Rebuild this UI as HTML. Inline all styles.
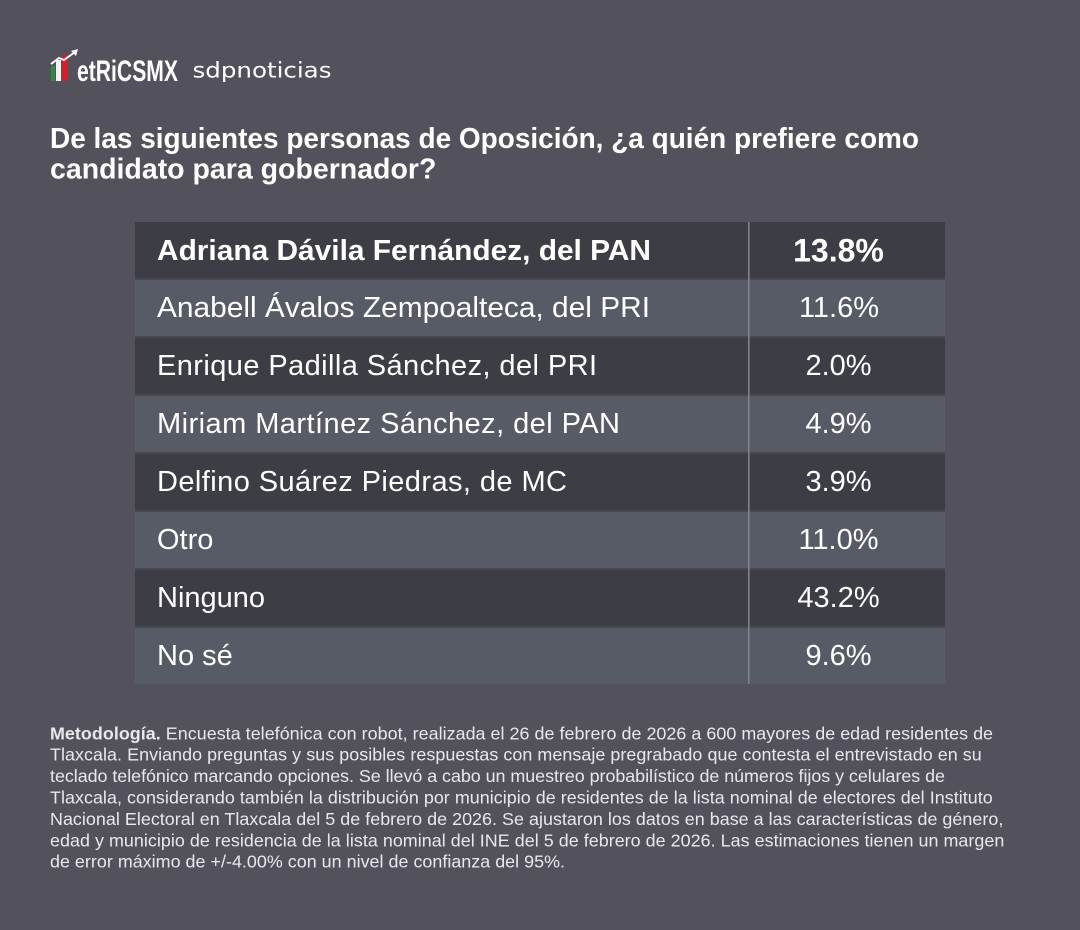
<!DOCTYPE html>
<html>
<head>
<meta charset="utf-8">
<style>
  html, body { margin:0; padding:0; background:#53515c; }
  svg { display:block; }
</style>
</head>
<body>
<svg width="1080" height="930" viewBox="0 0 1080 930" xmlns="http://www.w3.org/2000/svg" font-family="'Liberation Sans', Arial, sans-serif">
  <rect x="0" y="0" width="1080" height="930" fill="#53515c"/>

  <!-- Logo -->
  <rect x="51" y="66" width="4" height="15" fill="#2e8b3e"/>
  <rect x="56" y="60" width="5" height="21" fill="#f2f2f2"/>
  <rect x="62" y="55" width="6" height="26" fill="#d0202a"/>
  <polyline points="51,64 59,58 64,60 75,52" fill="none" stroke="#ffffff" stroke-width="2"/>
  <polygon points="78,49 71,51 76,56" fill="#ffffff"/>
  <text x="77" y="81" font-size="30" font-weight="bold" fill="#ffffff" textLength="101" lengthAdjust="spacingAndGlyphs">etRiCSMX</text>
  <text x="192.5" y="77.5" font-size="21" fill="#ffffff" textLength="139" lengthAdjust="spacingAndGlyphs" font-family="'DejaVu Sans', 'Liberation Sans', sans-serif">sdpnoticias</text>

  <!-- Title -->
  <text x="50" y="148" font-size="28.5" font-weight="bold" fill="#ffffff" textLength="869" lengthAdjust="spacingAndGlyphs">De las siguientes personas de Oposición, ¿a quién prefiere como</text>
  <text x="50" y="178.3" font-size="28.5" font-weight="bold" fill="#ffffff">candidato para gobernador?</text>

  <!-- Table -->
  <rect x="135" y="222" width="810" height="462" fill="#48484f"/>
  <rect x="135" y="222" width="810" height="56" fill="#3c3d45"/>
  <rect x="135" y="280" width="810" height="56" fill="#575b66"/>
  <rect x="135" y="338" width="810" height="56" fill="#3c3d45"/>
  <rect x="135" y="396" width="810" height="56" fill="#575b66"/>
  <rect x="135" y="454" width="810" height="56" fill="#3c3d45"/>
  <rect x="135" y="512" width="810" height="56" fill="#575b66"/>
  <rect x="135" y="570" width="810" height="56" fill="#3c3d45"/>
  <rect x="135" y="628" width="810" height="56" fill="#575b66"/>
  <rect x="748" y="222" width="1.6" height="462" fill="#82828c"/>

  <g fill="#ffffff" font-size="29">
    <text x="157" y="260" font-weight="bold" textLength="494" lengthAdjust="spacingAndGlyphs">Adriana Dávila Fernández, del PAN</text>
    <text x="157" y="317" textLength="493" lengthAdjust="spacingAndGlyphs">Anabell Ávalos Zempoalteca, del PRI</text>
    <text x="157" y="375" textLength="440" lengthAdjust="spacing">Enrique Padilla Sánchez, del PRI</text>
    <text x="157" y="433" textLength="463" lengthAdjust="spacing">Miriam Martínez Sánchez, del PAN</text>
    <text x="157" y="491" textLength="410" lengthAdjust="spacing">Delfino Suárez Piedras, de MC</text>
    <text x="157" y="549">Otro</text>
    <text x="157" y="607">Ninguno</text>
    <text x="157" y="665">No sé</text>

    <g text-anchor="middle">
      <text x="838.5" y="261.5" font-size="32" font-weight="bold">13.8%</text>
      <text x="839" y="317">11.6%</text>
      <text x="838.5" y="375">2.0%</text>
      <text x="838.5" y="433">4.9%</text>
      <text x="838.5" y="491">3.9%</text>
      <text x="838.5" y="549">11.0%</text>
      <text x="838.5" y="607">43.2%</text>
      <text x="838.5" y="665">9.6%</text>
    </g>
  </g>

  <!-- Methodology -->
  <g fill="#e8e8ec" font-size="17.9">
    <text x="50" y="739.3" textLength="943" lengthAdjust="spacing"><tspan font-weight="bold">Metodología.</tspan> Encuesta telefónica con robot, realizada el 26 de febrero de 2026 a 600 mayores de edad residentes de</text>
    <text x="50" y="760.7" textLength="931.7" lengthAdjust="spacing">Tlaxcala. Enviando preguntas y sus posibles respuestas con mensaje pregrabado que contesta el entrevistado en su</text>
    <text x="50" y="782.1" textLength="895" lengthAdjust="spacing">teclado telefónico marcando opciones. Se llevó a cabo un muestreo probabilístico de números fijos y celulares de</text>
    <text x="50" y="803.5" textLength="942.7" lengthAdjust="spacing">Tlaxcala, considerando también la distribución por municipio de residentes de la lista nominal de electores del Instituto</text>
    <text x="50" y="824.9" textLength="953.3" lengthAdjust="spacing">Nacional Electoral en Tlaxcala del 5 de febrero de 2026. Se ajustaron los datos en base a las características de género,</text>
    <text x="50" y="846.3" textLength="954.3" lengthAdjust="spacing">edad y municipio de residencia de la lista nominal del INE del 5 de febrero de 2026. Las estimaciones tienen un margen</text>
    <text x="50" y="867.7" textLength="515" lengthAdjust="spacing">de error máximo de +/-4.00% con un nivel de confianza del 95%.</text>
  </g>
</svg>
</body>
</html>
